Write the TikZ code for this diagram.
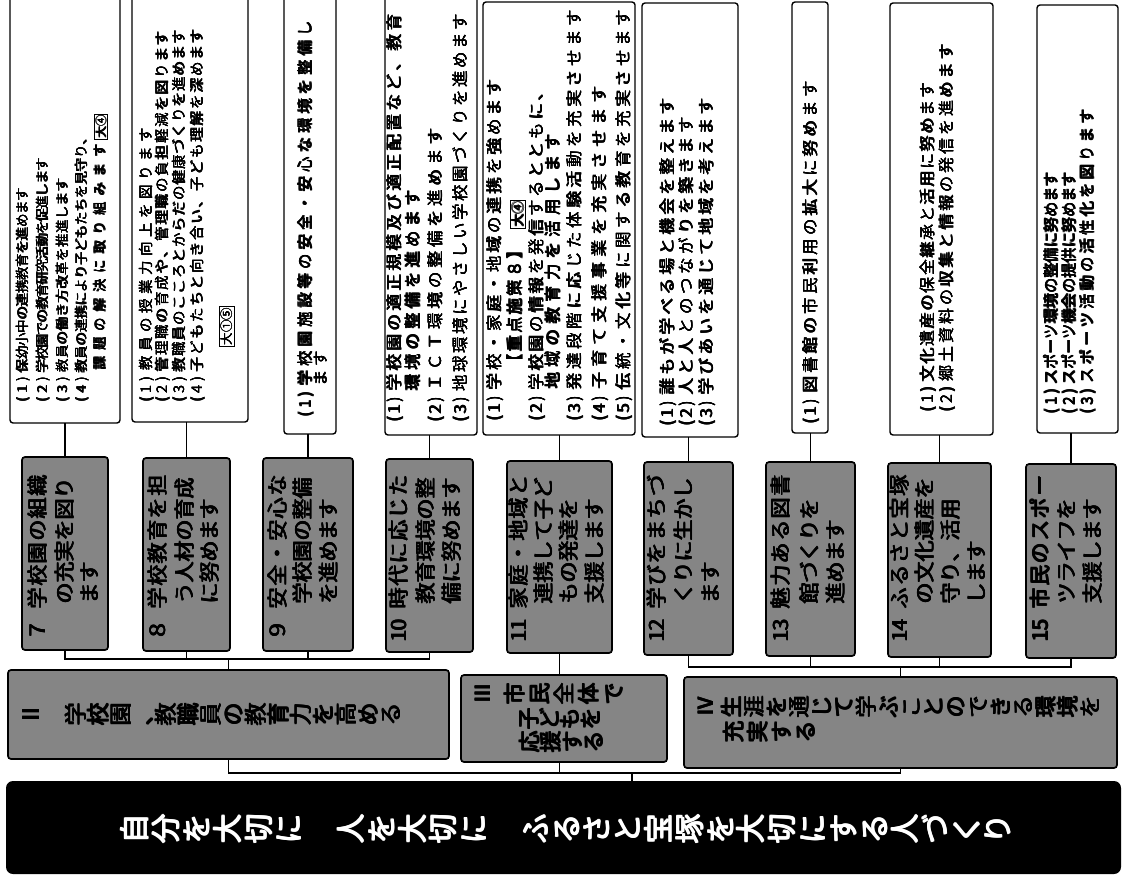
\documentclass[tikz,border=0pt]{standalone}
\usepackage{fontspec}
\usepackage{graphicx}
\newfontfamily\jpb{Noto Sans CJK JP}
\newlength\bw
\setlength\bw{0.4pt}
\newcommand\bch[1]{\rlap{\hspace{\bw}#1}\rlap{\raisebox{\bw}{#1}}\rlap{\hspace{\bw}\raisebox{\bw}{#1}}#1}
\makeatletter
\newcommand\chs[2]{\def\cpitch{#1}\chs@i#2\relax}
\def\chs@i#1{\ifx\relax#1\else\makebox[\cpitch]{\bch{#1}}\expandafter\chs@i\fi}
\newcommand\vchs[2]{\def\cpitch{#1}\vchs@i#2\relax}
\def\vchs@i#1{\ifx\relax#1\else\makebox[\cpitch]{\rotatebox[origin=c]{90}{\makebox[1em]{\rule[-0.12em]{0pt}{1em}\bch{#1}}}}\expandafter\vchs@i\fi}
\makeatother
\newcommand\pn[1]{\llap{\makebox[25pt][s]{\bch{(}\hfill\bch{#1}\hfill\bch{)}}\hspace{4pt}}}
\newcommand\gn[1]{\llap{\makebox[22pt]{\bch{#1}}\hspace{10pt}}}
\tikzset{
  wbox/.style={draw, line width=1.4pt, rounded corners=3pt, fill=white, inner sep=0pt, outer sep=0pt},
  gbox/.style={draw, line width=1.7pt, rounded corners=3pt, fill=black!48, inner sep=0pt, outer sep=0pt},
  bbox/.style={fill=black, rounded corners=7pt, inner sep=0pt, outer sep=0pt},
  conn/.style={line width=1.3pt},
  rline/.style={rotate=90, anchor=west, inner sep=0pt, outer sep=0pt},
  vline/.style={anchor=west, inner sep=0pt, outer sep=0pt},
  tagbox/.style={draw, line width=0.8pt, rotate=90, anchor=west, inner sep=1.2pt, fill=white},
}
\newcommand\bx[6]{\node[#2, minimum width={#5-#3}, minimum height={#6-#4}] (#1) at ({(#3+#5)/2},{(#4+#6)/2}) {};}
% rotated line: name, x, y, size, pitch, prefix, text
\newcommand\rl[7]{\node[rline,font={\jpb\fontsize{#4}{#4}\selectfont\setlength\bw{0.45pt}}] (#1) at (#2,#3) {\rule[-0.12em]{0pt}{1em}#6\chs{#5}{#7}};}
\newcommand\rg[7]{\node[rline,font={\jpb\fontsize{#4}{#4}\selectfont\setlength\bw{0.75pt}}] (#1) at (#2,#3) {\rule[-0.12em]{0pt}{1em}#6\chs{#5}{#7}};}
% vertical-writing line, turned: name, x, y, size, pitch, text
\newcommand\vl[6]{\node[vline,font={\jpb\fontsize{#4}{#4}\selectfont\setlength\bw{0.75pt}}] (#1) at (#2,#3) {\vchs{#5}{#6}};}
\begin{document}
\begin{tikzpicture}[x=1pt,y=-1pt]
\useasboundingbox (0,0) rectangle (1124,877);
\fill[white] (0,0) rectangle (1124,877);
\clip (0,0) rectangle (1124,877);
% white boxes
\bx{w7}{wbox}{10}{-4}{120}{423}
\bx{w8}{wbox}{132}{-4}{248}{422}
\bx{w9}{wbox}{284}{-4}{336}{434}
\bx{w10}{wbox}{385}{-4}{477}{435}
\bx{w11}{wbox}{483}{2}{635}{435}
\bx{w12}{wbox}{642}{3}{738}{437}
\bx{w13}{wbox}{792}{2}{828}{433}
\bx{w14}{wbox}{890}{3}{993}{435}
\bx{w15}{wbox}{1037}{5}{1118}{433}
% grey boxes
\bx{g7}{gbox}{22}{457}{108}{650}
\bx{g8}{gbox}{143}{458}{230}{651}
\bx{g9}{gbox}{263}{458}{353}{651}
\bx{g10}{gbox}{386}{459}{473}{652}
\bx{g11}{gbox}{507}{461}{612}{653}
\bx{g12}{gbox}{644}{462}{733}{655}
\bx{g13}{gbox}{766}{462}{855}{656}
\bx{g14}{gbox}{888}{463}{991}{657}
\bx{g15}{gbox}{1026}{464}{1116}{658}
% group boxes
\bx{b2}{gbox}{8}{670}{449}{759}
\bx{b3}{gbox}{461}{675}{667}{762}
\bx{b4}{gbox}{684}{677}{1117}{768}
\bx{bar}{bbox}{6}{781}{1121}{874}
% connectors
\foreach \i in {7,...,15}{\draw[conn] (g\i.north |- w\i.south) -- (g\i.north);}
\coordinate (k2) at (0,659);
\coordinate (k4) at (0,667);
\coordinate (k1) at (0,773);
\coordinate (k0) at (632,773);
\draw[conn] (g7.south) -- (g7.south |- k2) -- (g10.south |- k2) -- (g10.south);
\draw[conn] (g8.south) -- (g8.south |- k2);
\draw[conn] (g9.south) -- (g9.south |- k2);
\draw[conn] (b2.north |- k2) -- (b2.north);
\draw[conn] (g11.south) -- (g11.south |- b3.north);
\draw[conn] (g12.south) -- (g12.south |- k4) -- (g15.south |- k4) -- (g15.south);
\draw[conn] (g13.south) -- (g13.south |- k4);
\draw[conn] (g14.south) -- (g14.south |- k4);
\draw[conn] (b4.north |- k4) -- (b4.north);
\draw[conn] (b2.south) -- (b2.south |- k1) -- (b4.south |- k1) -- (b4.south);
\draw[conn] (g11.south |- b3.south) -- (g11.south |- k1);
\draw[conn] (k0) -- (k0 |- bar.north);
% white box texts
\rl{l71}{23}{373}{13.5}{13.2pt}{\pn{1}}{保幼小中の連携教育を進めます}
\rl{l72}{43}{373}{13.5}{12.6pt}{\pn{2}}{学校園での教育研究活動を促進します}
\rl{l73}{63}{373}{13.5}{13.9pt}{\pn{3}}{教員の働き方改革を推進します}
\rl{l74}{82}{373}{13.5}{13.4pt}{\pn{4}}{教員の連携により子どもたちを見守り、}
\rl{l75}{100}{373}{13.5}{19.3pt}{}{課題の解決に取り組みます}
\node[tagbox,font={\jpb\fontsize{11.5}{11.5}\selectfont}] (m7) at (101,140) {\chs{11.5pt}{大④}};
\rl{l81}{147}{373}{14.5}{19pt}{\pn{1}}{教員の授業力向上を図ります}
\rl{l82}{163}{373}{14.5}{16.3pt}{\pn{2}}{管理職の育成や、管理職の負担軽減を図ります}
\rl{l83}{180}{373}{14.5}{15.6pt}{\pn{3}}{教職員のこころとからだの健康づくりを進めます}
\rl{l84}{198}{373}{14.5}{16.4pt}{\pn{4}}{子どもたちと向き合い、子ども理解を深めます}
\node[tagbox,font={\jpb\fontsize{12.5}{12.5}\selectfont}] (m8) at (227,347) {\chs{12.5pt}{大①⑤}};
\rl{l91}{306}{388}{15.5}{19.4pt}{\pn{1}}{学校園施設等の安全・安心な環境を整備し}
\rl{l92}{321}{388}{15.5}{19.4pt}{}{ます}
\rl{l101}{395}{393}{16.5}{20pt}{\pn{1}}{学校園の適正規模及び適正配置など、教育}
\rl{l102}{413}{393}{16.5}{20.5pt}{}{環境の整備を進めます}
\rl{l103}{436}{393}{16.5}{20.5pt}{\pn{2}}{ＩＣＴ環境の整備を進めます}
\rl{l104}{461}{393}{16.5}{19pt}{\pn{3}}{地球環境にやさしい学校園づくりを進めます}
\rl{l111}{495}{392}{16.5}{19.6pt}{\pn{1}}{学校・家庭・地域の連携を強めます}
\rl{l112}{515}{372}{16.5}{18.6pt}{}{【重点施策８】}
\node[tagbox,font={\jpb\fontsize{13}{13}\selectfont}] (m11) at (518,229) {\chs{13pt}{大④}};
\rl{l113}{537}{392}{16.5}{19.3pt}{\pn{2}}{学校園の情報を発信するとともに、}
\rl{l114}{553}{392}{16.5}{21.7pt}{}{地域の教育力を活用します}
\rl{l115}{575}{392}{16.5}{20.2pt}{\pn{3}}{発達段階に応じた体験活動を充実させます}
\rl{l116}{600}{392}{16.5}{22pt}{\pn{4}}{子育て支援事業を充実させます}
\rl{l117}{624}{392}{16.5}{20.2pt}{\pn{5}}{伝統・文化等に関する教育を充実させます}
\rl{l121}{668}{397}{16.5}{20pt}{\pn{1}}{誰もが学べる場と機会を整えます}
\rl{l122}{687}{397}{16.5}{20.1pt}{\pn{2}}{人と人とのつながりを築きます}
\rl{l123}{707}{397}{16.5}{20pt}{\pn{3}}{学びあいを通じて地域を考えます}
\rl{l131}{811}{395}{16.5}{19.7pt}{\pn{1}}{図書館の市民利用の拡大に努めます}
\rl{l141}{928}{383}{16}{17.7pt}{\pn{1}}{文化遺産の保全継承と活用に努めます}
\rl{l142}{947}{383}{16}{18.9pt}{\pn{2}}{郷土資料の収集と情報の発信を進めます}
\rl{l151}{1052}{385}{15.5}{15.2pt}{\pn{1}}{スポーツ環境の整備に努めます}
\rl{l152}{1070}{385}{15.5}{15.2pt}{\pn{2}}{スポーツ機会の提供に努めます}
\rl{l153}{1088}{385}{15.5}{18.5pt}{\pn{3}}{スポーツ活動の活性化を図ります}
% grey box texts
\rg{t7a}{38}{610}{21}{22.5pt}{\gn{７}}{学校園の組織}
\rg{t7b}{65}{604}{21}{21pt}{}{の充実を図り}
\rg{t7c}{90}{604}{21}{21pt}{}{ます}
\rg{t8a}{158}{610}{21}{22.5pt}{\gn{８}}{学校教育を担}
\rg{t8b}{185}{604}{21}{21pt}{}{う人材の育成}
\rg{t8c}{210}{604}{21}{21pt}{}{に努めます}
\rg{t9a}{278}{610}{21}{22.5pt}{\gn{９}}{安全・安心な}
\rg{t9b}{303}{604}{21}{21pt}{}{学校園の整備}
\rg{t9c}{329}{604}{21}{21pt}{}{を進めます}
\rg{t10a}{399}{610}{21}{22.5pt}{\gn{10}}{時代に応じた}
\rg{t10b}{426}{604}{21}{21pt}{}{教育環境の整}
\rg{t10c}{452}{604}{21}{21pt}{}{備に努めます}
\rg{t11a}{519}{610}{21}{22.5pt}{\gn{11}}{家庭・地域と}
\rg{t11b}{544}{604}{21}{21pt}{}{連携して子ど}
\rg{t11c}{569}{604}{21}{21pt}{}{もの発達を}
\rg{t11d}{595}{604}{21}{21pt}{}{支援します}
\rg{t12a}{657}{610}{21}{22.5pt}{\gn{12}}{学びをまちづ}
\rg{t12b}{684}{604}{21}{21pt}{}{くりに生かし}
\rg{t12c}{711}{604}{21}{21pt}{}{ます}
\rg{t13a}{781}{610}{21}{22.5pt}{\gn{13}}{魅力ある図書}
\rg{t13b}{810}{604}{21}{21pt}{}{館づくりを}
\rg{t13c}{836}{604}{21}{21pt}{}{進めます}
\rg{t14a}{900}{610}{21}{22.5pt}{\gn{14}}{ふるさと宝塚}
\rg{t14b}{925}{604}{21}{21pt}{}{の文化遺産を}
\rg{t14c}{951}{604}{21}{21pt}{}{守り、活用}
\rg{t14d}{977}{604}{21}{21pt}{}{します}
\rg{t15a}{1040}{610}{21}{22.5pt}{\gn{15}}{市民のスポー}
\rg{t15b}{1067}{604}{21}{21pt}{}{ツライフを}
\rg{t15c}{1093}{604}{21}{21pt}{}{支援します}
% group texts (vertical writing, turned with the page)
\vl{t2}{20}{715}{23}{22.5pt}{Ⅱ　学校園、教職員の教育力を高める}
\vl{t3n}{471}{694}{21}{24pt}{Ⅲ}
\vl{t3a}{503}{694}{22}{24.6pt}{市民全体で}
\vl{t3b}{519}{719}{22}{20.5pt}{子どもを}
\vl{t3c}{519}{742}{22}{21.5pt}{応援する}
\vl{t4n}{695}{707}{21}{22pt}{Ⅳ}
\vl{t4a}{721}{707}{22}{22.4pt}{生涯を通じて学ぶことのできる環境を}
\vl{t4b}{722}{732}{22}{24pt}{充実する}
\node[vline,text=white,font={\jpb\fontsize{30}{30}\selectfont\setlength\bw{0.9pt}}] (bt) at (120,829) {\vchs{30.8pt}{自分を大切に　人を大切に　ふるさと宝塚を大切にする人づくり}};
\end{tikzpicture}
\end{document}
